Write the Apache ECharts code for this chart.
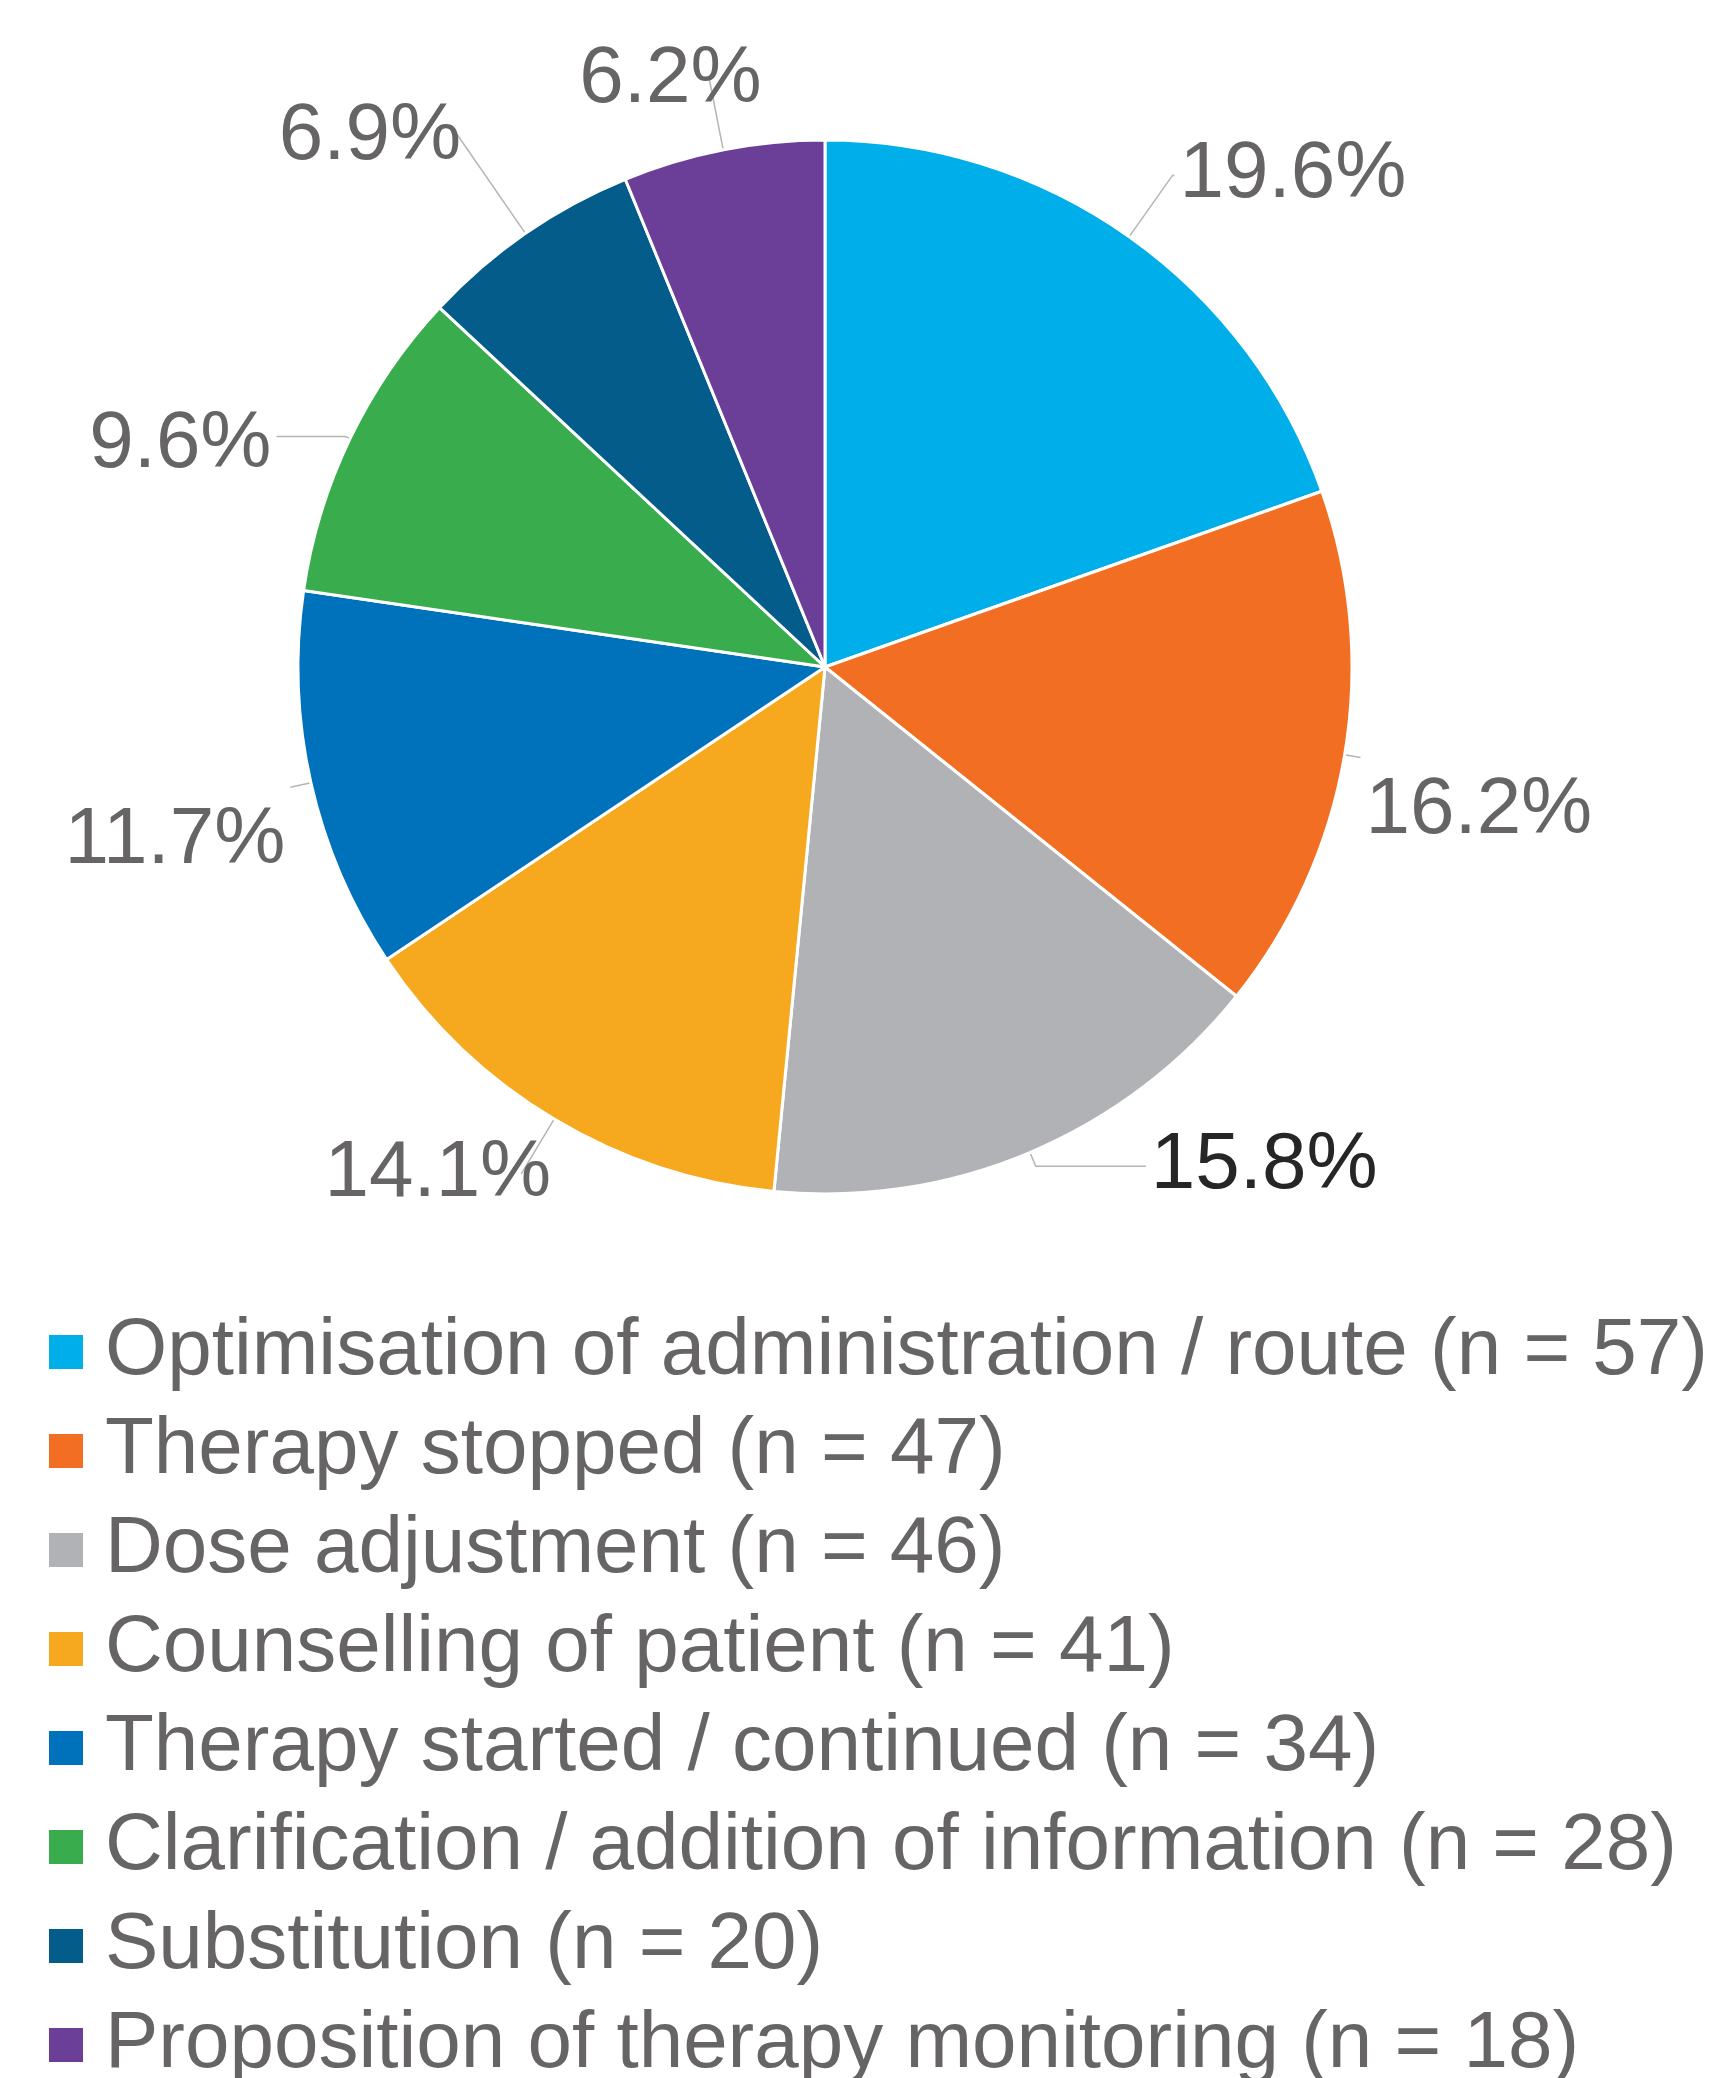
<!DOCTYPE html>
<html>
<head>
<meta charset="utf-8">
<style>
  html, body { margin: 0; padding: 0; background: #fff; }
  #chart { width: 1724px; height: 2078px; }
</style>
<script src="https://cdn.jsdelivr.net/npm/echarts@6/dist/echarts.min.js"></script>
</head>
<body>
<div id="chart"></div>
<script>
// data
var categories = [
  'Optimisation of administration / route',
  'Therapy stopped',
  'Dose adjustment',
  'Counselling of patient',
  'Therapy started / continued',
  'Clarification / addition of information',
  'Substitution',
  'Proposition of therapy monitoring'
];
var counts = [57, 47, 46, 41, 34, 28, 20, 18];
var colors = ['#00aee9', '#f26e22', '#b1b2b5', '#f6a81e', '#0071bb', '#39ad4d', '#035c8a', '#6b3f98'];

// leader line lengths per slice, to push labels roughly where the original put them
var lineLen = [75, 16, 15, 64, 21, 5, 122, 71];
var lineLen2 = [2, 0, 110, 0, 0, 69, 0, 0];
// small nudges (px) for labels that the leader line can't reach
var labelShift = [[0, 0], [0, 53], [0, 0], [35, 0], [0, 54], [0, 8], [10, 4], [57, 0]];

var total = counts.reduce(function (a, b) { return a + b; }, 0);
var textGray = '#676465';
var font = 'Liberation Sans, Arial, sans-serif';

function legendName(i) {
  return categories[i] + ' (n = ' + counts[i] + ')';
}

var chart = echarts.init(document.getElementById('chart'));

var opt = {
  backgroundColor: '#fff',
  animation: false,
  color: colors,
  legend: {
    orient: 'vertical',
    left: 42,
    top: 1302,
    height: 1000,
    icon: 'rect',
    itemWidth: 36,
    itemHeight: 36,
    itemGap: 9,
    data: categories.map(function (c, i) { return legendName(i); }),
    textStyle: {
      color: textGray,
      fontSize: 80,
      lineHeight: 90,
      fontFamily: font,
      padding: [0, 0, 0, 16]
    }
  },
  series: [{
    type: 'pie',
    center: [825, 667],
    radius: 527,
    startAngle: 90,
    clockwise: true,
    avoidLabelOverlap: false,
    itemStyle: {
      borderColor: '#fff',
      borderWidth: 3
    },
    label: {
      show: true,
      position: 'outside',
      color: textGray,
      fontSize: 80,
      fontFamily: font,
      formatter: function (p) {
        return (p.value / total * 100).toFixed(1) + '%';
      }
    },
    labelLine: {
      show: true,
      lineStyle: { color: '#b5b5b5', width: 1.5 }
    },
    labelLayout: function (p) {
      var s = labelShift[p.dataIndex];
      if (!s[0] && !s[1]) return {};
      return { dx: s[0], dy: s[1] };
    },
    data: counts.map(function (v, i) {
      var item = {
        name: legendName(i),
        value: v,
        labelLine: { length: lineLen[i], length2: lineLen2[i] }
      };
      if (i === 2) {
        item.label = { color: '#262626' };
      }
      return item;
    })
  }]
};

chart.setOption(opt);
</script>
</body>
</html>
